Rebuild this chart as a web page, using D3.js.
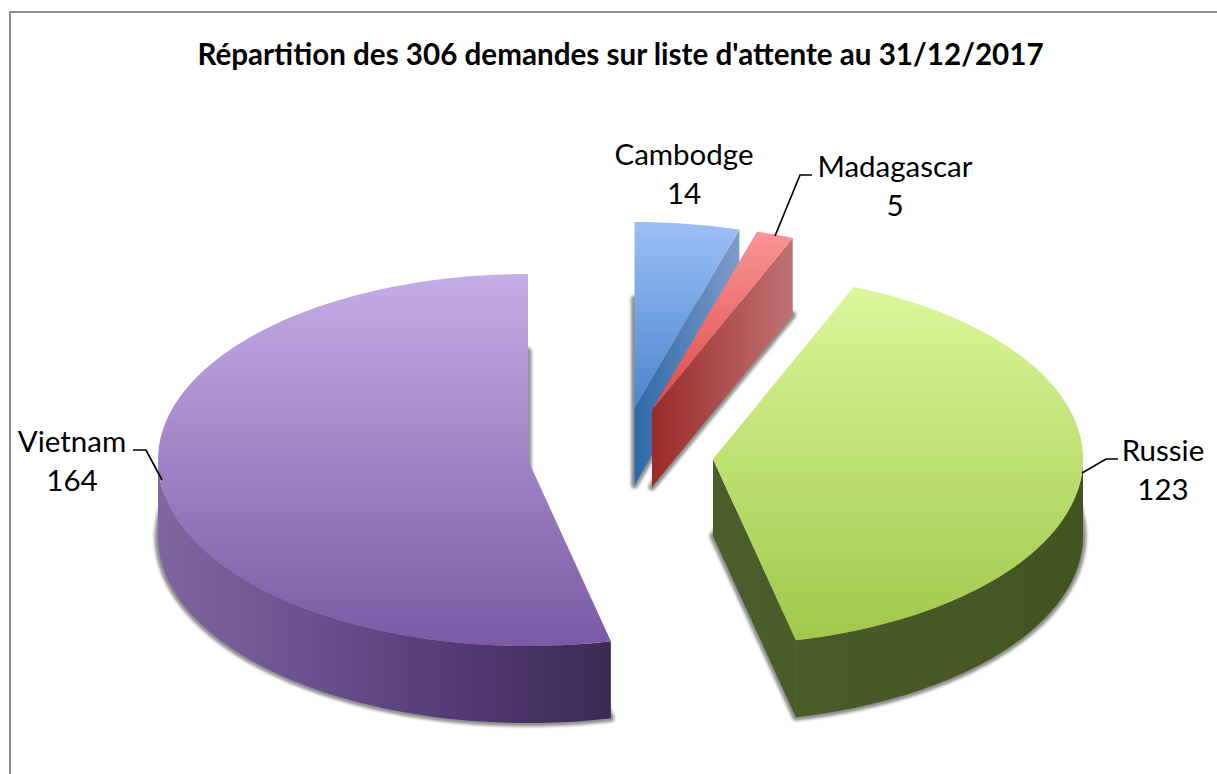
<!DOCTYPE html>
<html><head><meta charset="utf-8">
<script src="https://cdn.jsdelivr.net/npm/d3@7/dist/d3.min.js"></script>
<style>html,body{margin:0;padding:0;background:#fff;overflow:hidden}svg{display:block}</style>
</head><body><svg id="c" width="1217" height="774"></svg>
<script>
const categories = ["Cambodge", "Madagascar", "Russie", "Vietnam"];
const values = [14, 5, 123, 164];
const chartTitle = "Répartition des 306 demandes sur liste d'attente au 31/12/2017";

// layout (exploded slice centres, label anchors, shading)
const centresX = [634.5, 652, 713, 528];
const centresY = [408, 410, 459, 460];
const rx = 370, ry = 186, depth = 77;
const labelX = [684, 895, 1163, 72];
const labelY = [165, 177, 461, 452];
const leaders = [null, [[812,175],[800,175],[775,236]], [[1118,459],[1106,459],[1082,473]], [[133,450],[146,450],[162,480]]];
const topColors = [["#9CBFF5","#4A86CE"],["#F99595","#DF4A4A"],["#D9F89A","#A1C84B"],["#C4ADE7","#7C59A5"]];
const sideColors = [["#2E68A8","#7F9CC8"],["#9A2B29","#BF7373"],["#4C5E2C","#435420"],["#80669F","#6C5090","#523A74","#3C2A54"]];

const svg = d3.select("#c");
const defs = svg.append("defs");
defs.append("filter").attr("id","blur").attr("x","-10%").attr("y","-10%").attr("width","120%").attr("height","120%")
  .append("feGaussianBlur").attr("stdDeviation",1.8);

svg.append("path").attr("d","M10,774V12H1217").attr("fill","none").attr("stroke","#8e8e8e").attr("stroke-width",2);

svg.append("text").attr("x",620.5).attr("y",65).attr("text-anchor","middle")
  .attr("font-family","Lato").attr("font-weight",700).attr("font-size",29.6).attr("fill","#000").text(chartTitle);

const pie = d3.pie().sort(null).startAngle(0).endAngle(2*Math.PI);
const arcs = pie(values);
const STEP = Math.PI/180;

function proj(i,a,dz=0){ return [centresX[i]+rx*Math.sin(a), centresY[i]-ry*Math.cos(a)+dz]; }
function arcPts(i,a0,a1,dz=0){
  const n=Math.max(2,Math.ceil((a1-a0)/STEP));
  return d3.range(n+1).map(k=>proj(i,a0+(a1-a0)*k/n,dz));
}
const line=d3.line();
function sector(i,a0,a1,dz=0){ return line([[centresX[i],centresY[i]+dz],...arcPts(i,a0,a1,dz)])+"Z"; }

function grad(id,x1,y1,x2,y2,cols){
  const g=defs.append("linearGradient").attr("id",id).attr("gradientUnits","userSpaceOnUse")
    .attr("x1",x1).attr("y1",y1).attr("x2",x2).attr("y2",y2);
  cols.forEach((c,k)=>g.append("stop").attr("offset",k/(cols.length-1)).attr("stop-color",c));
  return `url(#${id})`;
}

// shadows of the base footprints
const sh=svg.append("g").attr("filter","url(#blur)");
arcs.forEach((d,i)=>{
  sh.append("path").attr("d",sector(i,d.startAngle,d.endAngle,depth))
    .attr("fill","#8f8f8f").attr("stroke","#8f8f8f").attr("stroke-width",7).attr("stroke-linejoin","round");
});

arcs.forEach((d,i)=>{
  const g=svg.append("g").attr("class","slice").attr("data-name",categories[i]);
  const a0=d.startAngle,a1=d.endAngle;
  const pts=arcPts(i,a0,a1);
  const xs=pts.map(p=>p[0]), ys=pts.map(p=>p[1]).concat(centresY[i]);
  const xExt=d3.extent(xs.concat(centresX[i]));
  const sideFill=grad("s"+i,xExt[0],0,xExt[1],0,sideColors[i]);
  const wall=(a)=>{
    const p=proj(i,a),c=[centresX[i],centresY[i]];
    g.append("path").attr("d",line([c,p,[p[0],p[1]+depth],[c[0],c[1]+depth]])+"Z").attr("fill",sideFill);
  };
  if(Math.sin(a1)>1e-6) wall(a1);
  if(Math.sin(a0)<-1e-6) wall(a0);
  const lo=Math.max(a0,Math.PI/2), hi=Math.min(a1,3*Math.PI/2);
  if(lo<hi){
    const up=arcPts(i,lo,hi), dn=arcPts(i,lo,hi,depth).reverse();
    g.append("path").attr("d",line([...up,...dn])+"Z").attr("fill",sideFill);
  }
  const topFill=grad("t"+i,0,d3.min(ys),0,d3.max(ys),topColors[i]);
  g.append("path").attr("d",sector(i,a0,a1)).attr("fill",topFill);
});

const ll=svg.append("g");
leaders.forEach(l=>{ if(l) ll.append("path").attr("d",line(l)).attr("fill","none").attr("stroke","#000").attr("stroke-width",1.7); });
categories.forEach((c,i)=>{
  const t=svg.append("g").attr("font-family","Lato").attr("font-size",29.5).attr("text-anchor","middle").attr("fill","#000");
  t.append("text").attr("x",labelX[i]).attr("y",labelY[i]).text(c);
  t.append("text").attr("x",labelX[i]).attr("y",labelY[i]+39).text(values[i]);
});
</script></body></html>
